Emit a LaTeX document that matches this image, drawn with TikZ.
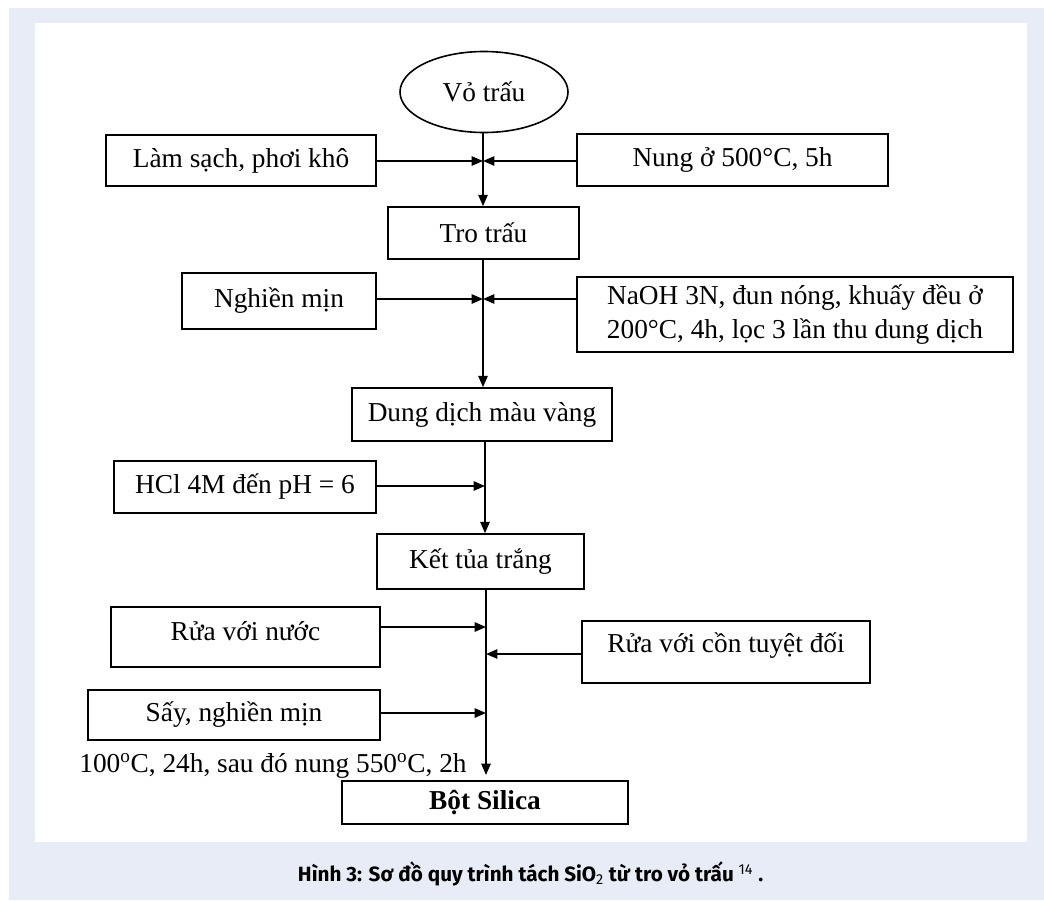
\documentclass[tikz,border=0pt]{standalone}
\usepackage{fontspec}
\setmainfont{Liberation Serif}
\newfontfamily\capfont{Fira Sans}
\usetikzlibrary{arrows.meta,shapes.geometric}
\definecolor{bgblue}{RGB}{231,236,246}
\tikzset{
  bx/.style 2 args={draw, line width=1.2pt, rectangle, inner sep=0pt, align=center,
    minimum width=#1*0.75pt, minimum height=#2*0.75pt,
    font=\fontsize{20.5pt}{25pt}\selectfont},
  txt/.style={inner sep=0pt, align=center, font=\fontsize{20.5pt}{25pt}\selectfont},
  arr/.style={line width=1.2pt, -{Triangle[length=8.5pt,width=7pt]}},
}
\begin{document}
\begin{tikzpicture}[x=0.75pt,y=-0.75pt]
\useasboundingbox (0,0) rectangle (1044,900);
\fill[bgblue] (9,8) rectangle (1044,900);
\fill[white] (35,23) rectangle (1027,842);

% axis coordinates
\coordinate (a1) at (483,0);
\coordinate (a2) at (485,0);
\coordinate (a3) at (486,0);
\coordinate (j1) at (483,161);
\coordinate (j2) at (483,299);
\coordinate (j3) at (485,486);
\coordinate (j4) at (486,627);
\coordinate (j5) at (486,654);
\coordinate (j6) at (486,713);
\coordinate (fin) at (486,775);

\node[draw, line width=1.2pt, ellipse, inner sep=0pt, minimum width=168*0.75pt, minimum height=81*0.75pt,
  font=\fontsize{20.5pt}{25pt}\selectfont] (ell) at (484,92) {Vỏ trấu};

\node[bx={270}{51}] (b1) at (241,160.5) {Làm sạch, phơi khô};
\node[bx={311}{52}] (b2) at (732.5,160) {Nung ở 500°C, 5h};
\node[bx={191}{52}] (b3) at (483.5,233) {Tro trấu};
\node[bx={194}{56}] (b4) at (279,301) {Nghiền mịn};
\node[bx={436}{75}] (b5) at (795,314.5) {NaOH 3N, đun nóng, khuấy đều ở\\200°C, 4h, lọc 3 lần thu dung dịch};
\node[bx={260}{53}] (b6) at (482,414.5) {Dung dịch màu vàng};
\node[bx={262}{52}] (b7) at (245,487) {HCl 4M đến pH = 6};
\node[bx={207}{55}] (b8) at (480.5,561.5) {Kết tủa trắng};
\node[bx={269}{60}] (b9) at (245.5,637) {};
\node[txt] (b9t) at (245.5,631) {Rửa với nước};
\node[bx={288}{62}] (b10) at (726,652) {};
\node[txt] (b10t) at (726,646) {Rửa với cồn tuyệt đối};
\node[bx={292}{50}] (b11) at (234,715) {Sấy, nghiền mịn};
\node[bx={286}{43}, font=\fontsize{20.5pt}{25pt}\selectfont\bfseries] (b12) at (485,802.5) {Bột Silica};
\node[txt] (t1) at (273,766) {100\textsuperscript{o}C, 24h, sau đó nung 550\textsuperscript{o}C, 2h};

% main flow
\draw[arr] (ell.south -| a1) -- (b3.north -| a1);
\draw[arr] (b3.south -| a1) -- (b6.north -| a1);
\draw[arr] (b6.south -| a2) -- (b8.north -| a2);
\draw[arr] (b8.south -| a3) -- (fin);

% side inputs
\draw[arr] (b1.east |- j1) -- (j1);
\draw[arr] (b2.west |- j1) -- (j1);
\draw[arr] (b4.east |- j2) -- (j2);
\draw[arr] (b5.west |- j2) -- (j2);
\draw[arr] (b7.east |- j3) -- (j3);
\draw[arr] (b9.east |- j4) -- (j4);
\draw[arr] (b10.west |- j5) -- (j5);
\draw[arr] (b11.east |- j6) -- (j6);

\node[font=\capfont\bfseries\fontsize{15.5pt}{19pt}\selectfont] (cap) at (530.5,874)
  {Hình 3: Sơ đồ quy trình tách SiO{\mdseries\textsubscript{2}} từ tro vỏ trấu {\mdseries\textsuperscript{14}} .};
\end{tikzpicture}
\end{document}
